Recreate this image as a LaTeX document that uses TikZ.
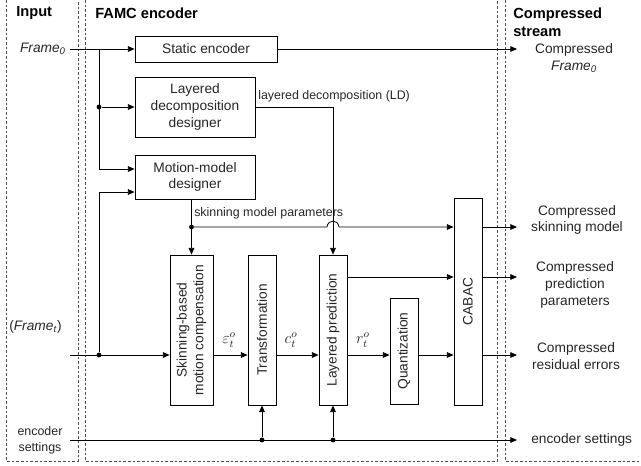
\documentclass[tikz,border=0pt]{standalone}
\usepackage{fontspec}
\setmainfont{Liberation Sans}
\usetikzlibrary{arrows.meta,calc}
\begin{document}
\begin{tikzpicture}[x=0.75pt,y=-0.75pt,
  every node/.style={font=\fontsize{10.3}{12.6}\selectfont, text=black!85},
  box/.style={draw, line width=0.6pt, inner sep=0pt, align=center},
  conn/.style={line width=0.6pt},
  arr/.style={conn, -{Triangle[length=5pt,width=4.2pt]}},
  dot/.style={circle, fill, inner sep=0pt, minimum size=3.6pt},
  frm/.style={dash pattern=on 2pt off 1.5pt, line width=0.6pt, black!70},
  head/.style={font=\fontsize{11}{13.5}\selectfont\bfseries, text=black, anchor=west, inner sep=0pt, align=left},
  small/.style={font=\fontsize{9.3}{12}\selectfont},
  mathlab/.style={font=\fontsize{11.5}{13}\selectfont, inner sep=0pt},
  outl/.style={align=center, inner sep=0pt},
  vtext/.style={rotate=90, align=center, inner sep=0pt},
]
\useasboundingbox (0,0) rectangle (641,465);

% dashed frames
\draw[frm] (6,0) -- (6,461) -- (78,461) -- (78,0);
\draw[frm] (85,0) -- (85,461) -- (497,461) -- (497,0);
\draw[frm] (505,0) -- (505,461) -- (641,461);

% headers
\node[head] (hin) at (16,13) {Input};
\node[head] (hfa) at (95,13) {FAMC encoder};
\node[head] (hcs) at (513,22) {Compressed\\stream};

% boxes
\node[box, minimum width=142*0.75pt, minimum height=26*0.75pt] (se) at (206,49) {Static encoder};
\node[box, minimum width=120*0.75pt, minimum height=60*0.75pt] (ld) at (195,107) {Layered\\decomposition\\designer};
\node[box, minimum width=120*0.75pt, minimum height=44*0.75pt] (mm) at (195,177) {Motion-model\\designer};
\node[box, minimum width=43*0.75pt, minimum height=150*0.75pt] (sk) at (191.5,330) {};
\node[box, minimum width=28*0.75pt, minimum height=150*0.75pt] (tr) at (262,330) {};
\node[box, minimum width=28*0.75pt, minimum height=150*0.75pt] (lp) at (333,330) {};
\node[box, minimum width=28*0.75pt, minimum height=106*0.75pt] (qu) at (404,351) {};
\node[box, minimum width=28*0.75pt, minimum height=207*0.75pt] (ca) at (468,301.5) {};
\node[vtext] (skt) at (sk) {Skinning-based\\motion compensation};
\node[vtext] (trt) at (tr) {Transformation};
\node[vtext] (lpt) at (lp) {Layered prediction};
\node[vtext] (qut) at (qu) {Quantization};
\node[vtext] (cat) at (ca) {CABAC};

% left labels
\node[anchor=east, inner sep=0pt] (lf0) at (66,49) {\itshape Frame\textsubscript{0}};
\node[inner sep=0pt] (lft) at (35.5,327) {(\textit{Frame}\textsubscript{\textit{t}})};
\node[small, align=center, inner sep=0pt] (les) at (40,440) {encoder\\settings};

% right labels
\node[outl] (rf0) at (574,58) {Compressed\\\textit{Frame}\textsubscript{\textit{0}}};
\node[outl] (rsk) at (577,220) {Compressed\\skinning model};
\node[outl] (rpp) at (575,285) {Compressed\\prediction\\parameters};
\node[outl] (rre) at (576,356) {Compressed\\residual errors};
\node[anchor=west, inner sep=0pt] (res) at (531,440) {encoder settings};

% coordinates
\coordinate (in0) at (70,49);
\coordinate (j0) at (99,49);
\coordinate (int) at (70,355);
\coordinate (ines) at (70,440);
\coordinate (yp) at (0,277);
\coordinate (o0) at (517,49);
\coordinate (o1) at (517,227);
\coordinate (o2) at (517,277);
\coordinate (o3) at (517,355);
\coordinate (o4) at (517,440);
\coordinate (mmA) at ($(mm.west)+(0,-8)$);
\coordinate (mmB) at ($(mm.west)+(0,15)$);

% Frame0 path
\draw[arr] (in0) -- (se.west);
\draw[arr] (j0) |- (mmA);
\node[dot] (d1) at (99,107) {};
\draw[arr] (d1) -- (ld.west);
\draw[arr] (se.east) -- (o0);

% Frame_t path
\node[dot] (d2) at (99,355) {};
\draw[arr] (int) -- (sk.west |- int);
\draw[arr] (d2) |- (mmB);

% layered decomposition
\draw[arr] (ld.east) -| (lp.north);
\node[small, anchor=west, inner sep=0pt] (lld) at (258,96) {layered decomposition (LD)};

% skinning model parameters
\draw[arr] (mm.south -| sk.north) -- (sk.north);
\node[dot] (d3) at (191.5,227) {};
\draw[arr] (d3) -- (327,227) .. controls (328,219) and (338,219) .. (339,227) -- (ca.west |- d3);
\node[small, anchor=west, inner sep=0pt] (lsm) at (194,213) {skinning model parameters};

% main chain
\draw[arr] (sk.east |- int) -- (tr.west |- int);
\draw[arr] (tr.east |- int) -- (lp.west |- int);
\draw[arr] (lp.east |- int) -- (qu.west |- int);
\draw[arr] (qu.east |- int) -- (ca.west |- int);
\draw[arr] (lp.east |- yp) -- (ca.west |- yp);
\node[mathlab] (leps) at (229,340) {$\varepsilon_t^o$};
\node[mathlab] (lc) at (291,340) {$c_t^o$};
\node[mathlab] (lr) at (363,340) {$r_t^o$};

% CABAC outputs
\draw[arr] (ca.east |- o1) -- (o1);
\draw[arr] (ca.east |- o2) -- (o2);
\draw[arr] (ca.east |- o3) -- (o3);

% encoder settings
\draw[arr] (ines) -- (o4);
\node[dot] (d4) at (tr.south |- ines) {};
\node[dot] (d5) at (lp.south |- ines) {};
\draw[arr] (d4) -- (tr.south);
\draw[arr] (d5) -- (lp.south);
\end{tikzpicture}
\end{document}
